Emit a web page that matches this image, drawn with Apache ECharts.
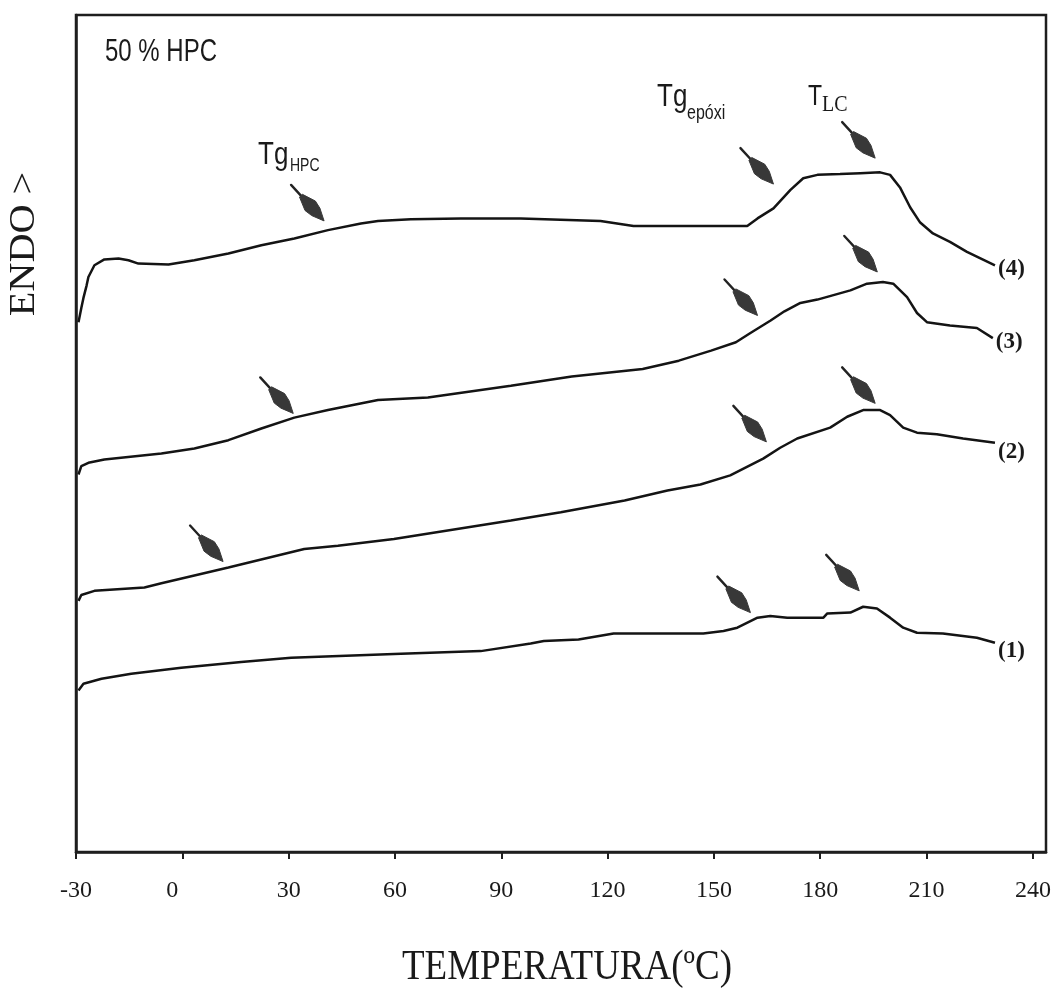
<!DOCTYPE html>
<html>
<head>
<meta charset="utf-8">
<script src="https://cdn.jsdelivr.net/npm/echarts@6/dist/echarts.min.js"></script>
<style>
  html, body { margin: 0; padding: 0; background: #ffffff; }
  #chart { width: 1057px; height: 1003px; }
</style>
</head>
<body>
<div id="chart"></div>
<script>
// DSC traces (endothermic up, arbitrary units) for the 50 % HPC blends, offset vertically.
// Each point: [temperature °C, heat flow a.u.]
const curve1 = [[-29.3,19.3],[-27.9,20.1],[-22.8,20.7],[-14.4,21.3],[-0.3,22.0],[16.6,22.7],[30.7,23.2],[61.7,23.7],[84.2,24.0],[98.3,24.9],[102.0,25.2],[111.8,25.4],[121.7,26.1],[147.0,26.1],[152.7,26.4],[156.6,26.8],[162.3,28.0],[165.9,28.2],[170.7,28.0],[180.9,28.0],[182.0,28.5],[188.5,28.6],[192.1,29.3],[196.0,29.1],[199.7,28.0],[203.4,26.8],[207.3,26.2],[214.6,26.1],[224.2,25.6],[229.3,25.0]];

const curve2 = [[-29.3,30.0],[-28.5,30.7],[-24.8,31.2],[-10.7,31.6],[-5.9,32.1],[13.0,34.0],[34.4,36.2],[43.9,36.6],[59.7,37.4],[92.7,39.6],[106.8,40.6],[124.8,42.0],[136.9,43.2],[146.2,43.9],[154.6,45.0],[163.9,47.0],[168.7,48.3],[173.5,49.4],[182.8,50.7],[187.6,52.0],[192.1,52.8],[196.9,52.8],[199.7,52.2],[203.4,50.7],[207.3,50.1],[212.9,49.9],[220.3,49.4],[229.3,48.9]];

const curve3 = [[-29.3,45.1],[-28.5,46.1],[-26.5,46.5],[-22.0,46.9],[-5.9,47.6],[3.4,48.2],[13.0,49.2],[22.3,50.6],[31.6,51.9],[41.1,52.8],[55.2,54.0],[69.3,54.3],[92.7,55.7],[109.9,56.8],[129.9,57.7],[140.1,58.7],[149.2,59.9],[156.2,60.9],[160.3,62.0],[166.0,63.5],[169.9,64.6],[174.4,65.6],[179.2,66.0],[188.5,67.1],[193.2,67.9],[197.7,68.1],[200.6,67.9],[204.5,66.3],[207.3,64.4],[210.1,63.3],[216.6,62.9],[224.2,62.6],[228.7,61.4]];

const curve4 = [[-29.3,63.3],[-28.5,65.0],[-27.9,66.2],[-27.0,67.7],[-26.5,68.7],[-24.8,70.1],[-22.0,70.8],[-18.0,70.9],[-15.2,70.7],[-12.4,70.3],[-3.9,70.2],[3.4,70.7],[13.0,71.5],[22.3,72.5],[31.6,73.3],[41.1,74.3],[50.4,75.1],[55.2,75.4],[64.5,75.6],[78.6,75.7],[95.5,75.7],[118.0,75.4],[127.3,74.8],[146.2,74.8],[159.4,74.8],[162.3,75.7],[166.8,76.9],[171.6,79.1],[175.2,80.5],[179.2,80.9],[185.6,81.0],[191.3,81.1],[196.9,81.2],[199.7,80.9],[202.5,79.4],[205.4,77.0],[208.2,75.2],[211.8,73.9],[216.6,72.9],[221.4,71.7],[229.3,70.1]];

const curveNames = ['(1)', '(2)', '(3)', '(4)'];

// Transition markers (arrow tips): Tg of HPC, Tg of the epoxy, T of the LC phase
const arrowTips = [[40.0,75.4],[166.8,79.8],[195.5,82.9],[31.3,52.4],[162.3,64.1],[196.1,69.3],[11.5,34.7],[164.8,49.0],[195.5,53.6],[160.3,28.6],[191.0,31.2]];

const xTickValues = [-30, 0, 30, 60, 90, 120, 150, 180, 210, 240];

const INK = '#141414';
const serif = '"Liberation Serif", "Times New Roman", serif';
const sans = '"Liberation Sans", Arial, sans-serif';

const chart = echarts.init(document.getElementById('chart'), null, { renderer: 'canvas' });

// Dart-shaped arrow: thin shaft, solid wedge head ending at the data point
function renderArrow(params, api) {
  const tip = api.coord([api.value(0), api.value(1)]);
  const dx = 33, dy = 36;
  const L = Math.hypot(dx, dy);
  const ux = dx / L, uy = dy / L, nx = -uy, ny = ux;
  const tail = [tip[0] - dx, tip[1] - dy];
  const p = (f, w) => [tail[0] + ux * L * f + nx * w, tail[1] + uy * L * f + ny * w];
  const shaftEnd = p(0.45, 0);
  return {
    type: 'group',
    children: [
      { type: 'line', shape: { x1: tail[0], y1: tail[1], x2: shaftEnd[0], y2: shaftEnd[1] },
        style: { stroke: '#222', lineWidth: 2.4, lineCap: 'round' } },
      { type: 'polygon', shape: { points: [p(0.3, 2), p(0.58, 7), p(0.75, 5.5), tip, p(0.75, -5.5), p(0.58, -7), p(0.3, -2)] },
        style: { fill: '#383838', stroke: '#383838', lineWidth: 1, lineJoin: 'round' } }
    ]
  };
}

const labelOffsets = [[0, 8], [0, 9], [0, 4], [0, 4]];

function traceSeries(data, idx) {
  return {
    type: 'line',
    data: data,
    showSymbol: false,
    symbol: 'none',
    smooth: false,
    lineStyle: { color: INK, width: 2.5 },
    endLabel: {
      show: true,
      formatter: curveNames[idx],
      distance: 3,
      offset: labelOffsets[idx],
      fontFamily: serif,
      fontSize: 23,
      fontWeight: 'bold',
      color: '#1a1a1a'
    },
    silent: true,
    z: 3
  };
}

const option = {
  animation: false,
  backgroundColor: '#ffffff',
  grid: {
    left: 76, right: 11, top: 15, bottom: 151,
    show: true, borderColor: '#1e1e1e', borderWidth: 2.5, backgroundColor: 'transparent'
  },
  xAxis: {
    type: 'value',
    min: -30, max: 243.7, interval: 30,
    axisLine: { show: true, onZero: false, lineStyle: { color: '#1e1e1e', width: 2.5 } },
    axisTick: { show: true, inside: false, length: 7, lineStyle: { color: '#1e1e1e', width: 2 } },
    splitLine: { show: false },
    axisLabel: {
      margin: 27,
      fontFamily: serif, fontSize: 24, color: '#1a1a1a',
      showMaxLabel: false,
      formatter: v => {
        if (!xTickValues.includes(v)) return '';
        return v === 0 ? '{z|0}' : String(v);
      },
      rich: { z: { fontFamily: serif, fontSize: 24, color: '#1a1a1a', padding: [0, 20, 0, 0] } }
    }
  },
  yAxis: {
    type: 'value',
    min: 0, max: 100,
    axisLine: { show: true, onZero: false, lineStyle: { color: '#1e1e1e', width: 2.5 } },
    axisTick: { show: false },
    axisLabel: { show: false },
    splitLine: { show: false }
  },
  series: [
    traceSeries(curve1, 0),
    traceSeries(curve2, 1),
    traceSeries(curve3, 2),
    traceSeries(curve4, 3),
    {
      type: 'custom',
      coordinateSystem: 'cartesian2d',
      data: arrowTips,
      encode: { x: 0, y: 1 },
      renderItem: renderArrow,
      clip: false,
      silent: true,
      z: 4
    }
  ],
  graphic: [
    { type: 'text', x: 105, y: 37, scaleY: 1.28, style: { text: '50 % HPC', font: '24px ' + sans, fill: '#1a1a1a', verticalAlign: 'top' } },
    { type: 'text', x: 258, y: 140, scaleY: 1.2, style: { text: 'Tg', font: '26px ' + sans, fill: '#1a1a1a', verticalAlign: 'top' } },
    { type: 'text', x: 290, y: 157, scaleY: 1.3, style: { text: 'HPC', font: '14px ' + sans, fill: '#1a1a1a', verticalAlign: 'top' } },
    { type: 'text', x: 657, y: 82, scaleY: 1.2, style: { text: 'Tg', font: '26px ' + sans, fill: '#1a1a1a', verticalAlign: 'top' } },
    { type: 'text', x: 687, y: 103, scaleY: 1.3, style: { text: 'epóxi', font: '16px ' + sans, fill: '#1a1a1a', verticalAlign: 'top' } },
    { type: 'text', x: 808, y: 82, scaleY: 1.3, style: { text: 'T', font: '23px ' + sans, fill: '#1a1a1a', verticalAlign: 'top' } },
    { type: 'text', x: 822, y: 93, scaleY: 1.15, style: { text: 'LC', font: '20px ' + serif, fill: '#1a1a1a', verticalAlign: 'top' } },
    { type: 'text', x: 567, y: 968, scaleY: 1.12, style: { text: 'TEMPERATURA(ºC)', font: '37px ' + serif, fill: '#1a1a1a', align: 'center', verticalAlign: 'middle' } },
    { type: 'text', x: 25, y: 244, rotation: Math.PI / 2, scaleX: 1.15, style: { text: 'ENDO >', font: '35px ' + serif, fill: '#1a1a1a', align: 'center', verticalAlign: 'middle' } }
  ]
};

chart.setOption(option);
</script>
</body>
</html>
